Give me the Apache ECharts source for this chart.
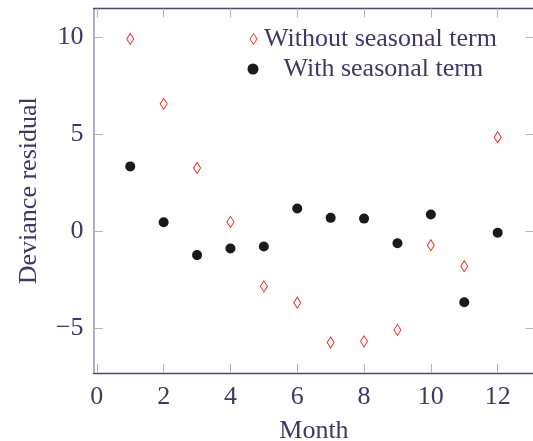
<!DOCTYPE html>
<html>
<head>
<meta charset="utf-8">
<script src="https://cdn.jsdelivr.net/npm/echarts@6/dist/echarts.min.js"></script>
<style>
  html, body { margin: 0; padding: 0; background: #fff; }
  #chart { width: 533px; height: 441px; }
</style>
</head>
<body>
<div id="chart"></div>
<script>
// Monthly deviance residuals for two model fits
const months = [1, 2, 3, 4, 5, 6, 7, 8, 9, 10, 11, 12];
const withoutSeasonal = [9.90, 6.56, 3.26, 0.48, -2.84, -3.68, -5.73, -5.67, -5.08, -0.72, -1.80, 4.84];
const withSeasonal = [3.34, 0.46, -1.23, -0.89, -0.79, 1.17, 0.69, 0.65, -0.62, 0.86, -3.66, -0.08];
const xTicks = [0, 2, 4, 6, 8, 10, 12];
const yTicks = [-5, 0, 5, 10];

const FONT = 'Liberation Serif';
const FS = 26;
const TEXT = '#3a3a68';
const NAVY = '#48487a';
const LILAC = '#9c9cb8';
const TICK = '#b4b4b4';
const RED = '#f02a2a';

const pairs = (ys) => months.map((m, i) => [m, ys[i]]);
const minus = (v) => String(v).replace('-', '\u2212');

const chart = echarts.init(document.getElementById('chart'), null, { renderer: 'canvas' });

const tickCommon = { show: true, inside: true, length: 9, lineStyle: { color: TICK, width: 1 } };

chart.setOption({
  animation: false,
  textStyle: { fontFamily: FONT },
  grid: { left: 93.5, right: -1.4, top: 8.5, bottom: 68, containLabel: false, outerBoundsMode: 'none' },
  legend: [
    {
      data: [{ name: 'Without seasonal term', itemStyle: { color: '#ffffff', borderColor: RED, borderWidth: 1 } }],
      left: 249.5, top: 26, padding: 0, itemWidth: 7, itemHeight: 11,
      textStyle: { fontFamily: FONT, fontSize: FS, color: TEXT, padding: [0, 0, 0, 2] },
      selectedMode: false
    },
    {
      data: ['With seasonal term'],
      left: 247.5, top: 56, padding: 0, itemWidth: 11, itemHeight: 11,
      textStyle: { fontFamily: FONT, fontSize: FS, color: TEXT, padding: [0, 0, 0, 20] },
      selectedMode: false
    }
  ],
  xAxis: [
    {
      type: 'value', position: 'bottom', min: -0.1, max: 13.1,
      name: 'Month', nameLocation: 'middle', nameGap: 45,
      nameTextStyle: { fontFamily: FONT, fontSize: FS, color: TEXT },
      axisLine: { show: true, onZero: false, lineStyle: { color: NAVY, width: 1.3 } },
      axisTick: Object.assign({ customValues: xTicks }, tickCommon),
      axisLabel: { customValues: xTicks, fontFamily: FONT, fontSize: FS, color: TEXT, margin: 11, formatter: minus },
      splitLine: { show: false }
    },
    {
      type: 'value', position: 'top', min: -0.1, max: 13.1,
      axisLine: { show: true, onZero: false, lineStyle: { color: NAVY, width: 1.3 } },
      axisTick: Object.assign({ customValues: xTicks }, tickCommon),
      axisLabel: { show: false },
      splitLine: { show: false }
    }
  ],
  yAxis: [
    {
      type: 'value', position: 'left', min: -7.3, max: 11.47,
      name: 'Deviance residual', nameLocation: 'middle', nameGap: 51, nameRotate: 90,
      nameTextStyle: { fontFamily: FONT, fontSize: FS, color: TEXT },
      axisLine: { show: true, onZero: false, lineStyle: { color: LILAC, width: 1.6 } },
      axisTick: Object.assign({ customValues: yTicks }, tickCommon),
      axisLabel: { customValues: yTicks, fontFamily: FONT, fontSize: FS, color: TEXT, margin: 10, formatter: minus },
      splitLine: { show: false }
    },
    {
      type: 'value', position: 'right', min: -7.3, max: 11.47,
      axisLine: { show: false, onZero: false },
      axisTick: Object.assign({ customValues: yTicks }, tickCommon),
      axisLabel: { show: false },
      splitLine: { show: false }
    }
  ],
  series: [
    {
      name: 'Without seasonal term', type: 'scatter',
      data: pairs(withoutSeasonal),
      symbol: 'diamond', symbolSize: [7, 11],
      itemStyle: { color: '#ffffff', borderColor: RED, borderWidth: 1, opacity: 1 },
      z: 3
    },
    {
      name: 'With seasonal term', type: 'scatter',
      data: pairs(withSeasonal),
      symbol: 'circle', symbolSize: 10,
      itemStyle: { color: '#1a1a1a', opacity: 1 },
      z: 4
    }
  ]
});
</script>
</body>
</html>
